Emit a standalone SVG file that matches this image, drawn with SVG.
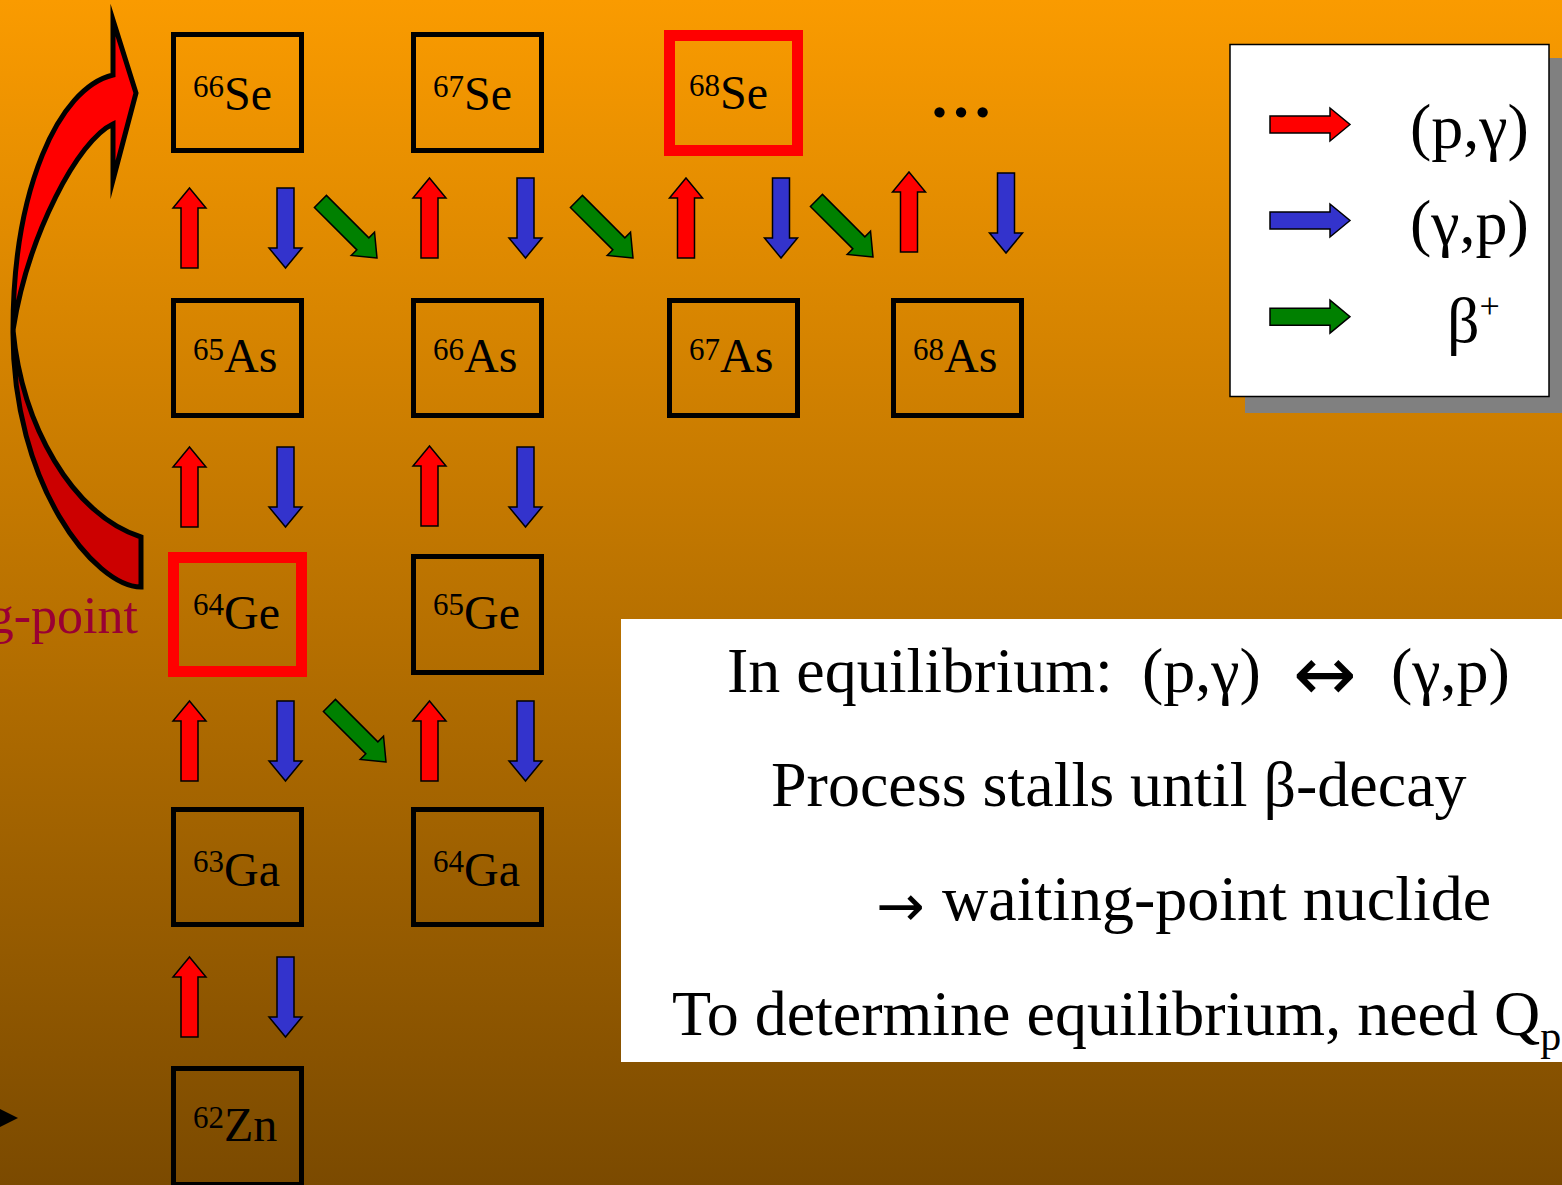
<svg xmlns="http://www.w3.org/2000/svg" xmlns:xlink="http://www.w3.org/1999/xlink" width="1562" height="1185" viewBox="0 0 1562 1185">
<defs>
<linearGradient id="bg" x1="0" y1="0" x2="0" y2="1">
<stop offset="0" stop-color="#FA9B00"/>
<stop offset="1" stop-color="#7B4A00"/>
</linearGradient>
<path id="arr" d="M0,0 L16.5,20 L8.5,20 L8.5,80 L-8.5,80 L-8.5,20 L-16.5,20 Z"/>
<style>
.t{font-family:"Liberation Serif","Times New Roman",serif;fill:#000}
.lbl{font-size:48px}
.sup{font-size:31px}
.box{fill:none;stroke:#000;stroke-width:5}
.wbox{fill:none;stroke:#FF0000;stroke-width:11}
.r{fill:#FF0000;stroke:#000;stroke-width:1.5;stroke-linejoin:miter}
.b{fill:#3333CC;stroke:#000;stroke-width:1.5;stroke-linejoin:miter}
.g{fill:#008000;stroke:#000;stroke-width:1.5;stroke-linejoin:miter}
.big{font-size:64px}
.sym{font-family:"DejaVu Sans",sans-serif}
</style>
</defs>
<rect x="0" y="0" width="1562" height="1185" fill="url(#bg)"/>

<g id="curved-arrow" stroke="#000" stroke-width="5" stroke-linejoin="miter" stroke-miterlimit="10">
<path d="M141,537 L141,587 C95,587 12,485 13,330 C22,425 72,515 141,537 Z" fill="#CC0000"/>
<path d="M113,124 L113,180 L136,93 L113,20 L113,75 C58,88 13,190 13,330 C28,235 78,140 113,124 Z" fill="#FF0000"/>
</g>
<text class="t" x="138" y="633" font-size="52" text-anchor="end" style="fill:#990033">g-point</text>
<polygon points="0,1109 18,1118 0,1127" fill="#000"/>

<g id="n66Se"><rect class="box" x="173.5" y="34.5" width="128" height="116"/><text class="t lbl" x="193" y="110"><tspan class="sup" y="97">66</tspan><tspan y="110">Se</tspan></text></g>
<g id="n67Se"><rect class="box" x="413.5" y="34.5" width="128" height="116"/><text class="t lbl" x="433" y="110"><tspan class="sup" y="97">67</tspan><tspan y="110">Se</tspan></text></g>
<g id="n68Se"><rect class="wbox" x="669.5" y="35.5" width="128" height="115"/><text class="t lbl" x="689" y="109"><tspan class="sup" y="96">68</tspan><tspan y="109">Se</tspan></text></g>
<g id="ellipsis"><text class="t" x="961" y="117" font-size="64" font-weight="bold" text-anchor="middle">…</text></g>

<g id="n65As"><rect class="box" x="173.5" y="300.5" width="128" height="115"/><text class="t lbl" x="193" y="372"><tspan class="sup" y="360">65</tspan><tspan y="372">As</tspan></text></g>
<g id="n66As"><rect class="box" x="413.5" y="300.5" width="128" height="115"/><text class="t lbl" x="433" y="372"><tspan class="sup" y="360">66</tspan><tspan y="372">As</tspan></text></g>
<g id="n67As"><rect class="box" x="669.5" y="300.5" width="128" height="115"/><text class="t lbl" x="689" y="372"><tspan class="sup" y="360">67</tspan><tspan y="372">As</tspan></text></g>
<g id="n68As"><rect class="box" x="893.5" y="300.5" width="128" height="115"/><text class="t lbl" x="913" y="372"><tspan class="sup" y="360">68</tspan><tspan y="372">As</tspan></text></g>

<g id="n64Ge"><rect class="wbox" x="173.5" y="557.5" width="128" height="114"/><text class="t lbl" x="193" y="629"><tspan class="sup" y="615">64</tspan><tspan y="629">Ge</tspan></text></g>
<g id="n65Ge"><rect class="box" x="413.5" y="556.5" width="128" height="116"/><text class="t lbl" x="433" y="629"><tspan class="sup" y="615">65</tspan><tspan y="629">Ge</tspan></text></g>

<g id="n63Ga"><rect class="box" x="173.5" y="809.5" width="128" height="115"/><text class="t lbl" x="193" y="886"><tspan class="sup" y="872">63</tspan><tspan y="886">Ga</tspan></text></g>
<g id="n64Ga"><rect class="box" x="413.5" y="809.5" width="128" height="115"/><text class="t lbl" x="433" y="886"><tspan class="sup" y="872">64</tspan><tspan y="886">Ga</tspan></text></g>

<g id="n62Zn"><rect class="box" x="173.5" y="1068.5" width="128" height="116"/><text class="t lbl" x="193" y="1141"><tspan class="sup" y="1128">62</tspan><tspan y="1141">Zn</tspan></text></g>

<g id="connectors">
<use xlink:href="#arr" class="r" transform="translate(189.5,188)"/>
<use xlink:href="#arr" class="b" transform="translate(285.5,268) rotate(180)"/>
<use xlink:href="#arr" class="g" transform="translate(377,258) rotate(135)"/>
<use xlink:href="#arr" class="r" transform="translate(429.5,178)"/>
<use xlink:href="#arr" class="b" transform="translate(525.5,258) rotate(180)"/>
<use xlink:href="#arr" class="g" transform="translate(633,258) rotate(135)"/>
<use xlink:href="#arr" class="r" transform="translate(686,178)"/>
<use xlink:href="#arr" class="b" transform="translate(781,258) rotate(180)"/>
<use xlink:href="#arr" class="g" transform="translate(873,257) rotate(135)"/>
<use xlink:href="#arr" class="r" transform="translate(909,172)"/>
<use xlink:href="#arr" class="b" transform="translate(1006,253) rotate(180)"/>

<use xlink:href="#arr" class="r" transform="translate(189.5,447)"/>
<use xlink:href="#arr" class="b" transform="translate(285.5,527) rotate(180)"/>
<use xlink:href="#arr" class="r" transform="translate(429.5,446)"/>
<use xlink:href="#arr" class="b" transform="translate(525.5,527) rotate(180)"/>

<use xlink:href="#arr" class="r" transform="translate(189.5,701)"/>
<use xlink:href="#arr" class="b" transform="translate(285.5,781) rotate(180)"/>
<use xlink:href="#arr" class="g" transform="translate(386,762) rotate(135)"/>
<use xlink:href="#arr" class="r" transform="translate(429.5,701)"/>
<use xlink:href="#arr" class="b" transform="translate(525.5,781) rotate(180)"/>

<use xlink:href="#arr" class="r" transform="translate(189.5,957)"/>
<use xlink:href="#arr" class="b" transform="translate(285.5,1037) rotate(180)"/>
</g>

<g id="legend">
<rect x="1245" y="58" width="317" height="355" fill="#808080"/>
<rect x="1230" y="44.5" width="319" height="352" fill="#FFFFFF" stroke="#000" stroke-width="1.5"/>
<use xlink:href="#arr" class="r" transform="translate(1350,124.5) rotate(90)"/>
<use xlink:href="#arr" class="b" transform="translate(1350,220.5) rotate(90)"/>
<use xlink:href="#arr" class="g" transform="translate(1350,316.7) rotate(90)"/>
<text class="t big" x="1410" y="148">(p,γ)</text>
<text class="t big" x="1410" y="244">(γ,p)</text>
<text class="t big" x="1447" y="342">β<tspan font-size="36" y="318">+</tspan></text>
</g>

<g id="textbox">
<rect x="621" y="619" width="941" height="443" fill="#FFFFFF"/>
<text class="t big" y="692"><tspan x="727">In equilibrium:</tspan><tspan x="1142">(p,γ)</tspan><tspan class="sym" x="1293" y="700" font-size="76">↔</tspan><tspan x="1391" y="692">(γ,p)</tspan></text>
<text class="t big" x="771" y="806">Process stalls until β-decay</text>
<text class="t big" y="920"><tspan class="sym" x="876" font-size="58" y="926">→</tspan><tspan x="942" y="920">waiting-point nuclide</tspan></text>
<text class="t big" x="672" y="1035">To determine equilibrium, need Q<tspan font-size="42" y="1050">p</tspan></text>
</g>
</svg>
